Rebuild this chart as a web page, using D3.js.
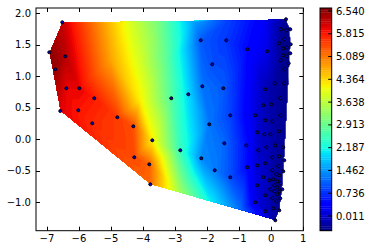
<!DOCTYPE html>
<html><head><meta charset="utf-8">
<script src="https://cdn.jsdelivr.net/npm/d3@7"></script>
<style>body{margin:0;background:#fff}text{font-family:"DejaVu Sans",sans-serif;font-size:10px;fill:#000}</style>
</head><body>
<svg id="chart" width="371" height="252"></svg>
<script>
// sample points (drawn as markers)
const ptX = [-6.52,-6.925,-6.426,-6.738,-6.395,-5.989,-5.521,-6.582,-6.020,-5.583,-4.803,-4.304,-3.711,-4.273,-3.805,-3.774,-3.119,-2.588,-2.838,-1.933,-2.183,-1.764,-1.278,-1.465,-1.496,-1.278,-2.201,-1.839,-2.151,-1.402,-0.747,-0.123,-0.778,-0.747,
  0.460,0.304,0.470,0.594,0.251,0.407,0.607,0.376,0.482,0.594,0.376,0.482,0.295,0.544,0.407,0.108,0.407,-0.186,0.282,0.002,-0.248,-0.498,0.282,-0.186,0.033,0.251,-0.435,-0.217,-0.030,0.126,0.376,-0.154,-0.404,0.033,0.251,0.407,-0.435,-0.186,0.220,0.033,0.158,0.251,0.376,-0.248,-0.061,0.064,0.189,0.282,-0.435,0.095,0.189,0.345,-0.030,0.095,0.251,-0.186,0.189,0.033,0.282,0.158,-0.498,0.064,0.251,-0.186,0.126];
const ptY = [1.857,1.380,1.316,1.110,0.808,0.808,0.649,0.447,0.458,0.251,0.347,0.203,-0.019,-0.289,-0.401,-0.719,0.649,0.712,-0.178,0.235,-0.305,-0.496,-0.607,-0.067,0.808,0.378,1.571,1.189,0.839,1.571,1.428,1.396,-0.099,-0.448,
  1.905,1.746,1.730,1.746,1.523,1.587,1.507,1.444,1.459,1.364,1.332,1.316,1.253,1.205,1.110,0.887,0.887,0.792,0.649,0.553,0.537,0.378,0.378,0.299,0.283,0.124,0.108,0.076,0.076,-0.099,-0.130,-0.130,-0.178,-0.289,-0.273,-0.337,-0.417,-0.385,-0.432,-0.496,-0.560,-0.576,-0.512,-0.607,-0.655,-0.639,-0.671,-0.703,-0.734,-0.734,-0.766,-0.798,-0.798,-0.830,-0.830,-0.893,-0.878,-0.941,-0.941,-0.989,-1.005,-1.100,-1.132,-1.148,-1.291];
const ptZ = [6.2,6.55,6.3,6.5,6.0,6.0,5.8,6.05,5.85,5.7,5.55,5.4,4.2,5.45,5.25,5.2,2.75,1.95,2.5,1.25,1.4,1.3,0.97,1.14,1.05,0.87,1.05,0.97,1.23,0.8,0.45,0.16,0.52,0.45,
  -0.3,-0.3,-0.35,-0.4,-0.3,-0.35,-0.4,-0.35,-0.35,-0.4,-0.35,-0.35,-0.3,-0.4,-0.35,-0.25,-0.35,-0.1,-0.3,-0.2,-0.05,0.1,-0.3,-0.1,-0.2,-0.3,0.05,-0.05,-0.15,-0.25,-0.3,-0.1,0.0,-0.2,-0.3,-0.35,0.05,-0.05,-0.3,-0.2,-0.3,-0.3,-0.35,0.0,-0.15,-0.2,-0.3,-0.3,0.1,-0.25,-0.3,-0.35,-0.15,-0.25,-0.3,-0.05,-0.3,-0.2,-0.3,-0.25,0.15,-0.2,-0.3,0.0,-0.25];
// extra field nodes (unmarked) shaping the surface
const nodeX = [-5.499,-4.501,-3.471,-2.441,-1.287,-0.289,-2.847,-1.911,-0.975,-5.031,-4.095,-3.315,-4.095];
const nodeY = [1.857,1.865,1.871,1.879,1.887,1.893,-0.847,-0.986,-1.122,1.258,1.258,1.258,0.622];
const nodeZ = [5.1,4.0,3.0,1.6,0.85,0.35,3.4,2.1,1.2,4.8,3.85,2.9,4.2];

const xTicks = [-7,-6,-5,-4,-3,-2,-1,0,1];
const yTicks = [-1.0,-0.5,0.0,0.5,1.0,1.5,2.0];
const cbTicks = [0.011,0.736,1.462,2.187,2.913,3.638,4.364,5.089,5.815,6.540];
const levelMin = -0.457, levelMax = 6.635, nLevels = 100;

(function () {
const svg = d3.select("#chart");
const pL = 36, pR = 303.3, pT = 8, pB = 230.7;
const x = d3.scaleLinear().domain([-7.34, 1]).range([pL, pR]);
const y = d3.scaleLinear().domain([-1.456, 2.084]).range([pB, pT]);

const jetR = d3.scaleLinear().domain([0,0.35,0.66,0.89,1]).range([0,0,1,1,0.5]).clamp(true);
const jetG = d3.scaleLinear().domain([0,0.125,0.375,0.64,0.91,1]).range([0,0,1,1,0,0]).clamp(true);
const jetB = d3.scaleLinear().domain([0,0.11,0.34,0.65,1]).range([0.5,1,1,0,0]).clamp(true);
const norm = d3.scaleLinear().domain([levelMin, levelMax]).range([0,1]);
const jet = v => { const t = norm(v); return d3.rgb(255*jetR(t), 255*jetG(t), 255*jetB(t)).toString(); };

const levels = d3.range(nLevels + 1).map(k => levelMin + k * (levelMax - levelMin) / nLevels);

// triangulated field
const allX = ptX.concat(nodeX), allY = ptY.concat(nodeY), allZ = ptZ.concat(nodeZ);
const del = d3.Delaunay.from(allX.map((v, i) => [v, allY[i]]));
const W = Math.round(pR - pL), H = Math.round(pB - pT);
const grid = new Float64Array(W * H).fill(-1e9);
const gx = allX.map(v => x(v) - pL), gy = allY.map(v => y(v) - pT);
const tri = del.triangles;
for (let t = 0; t < tri.length; t += 3) {
  const a = tri[t], b = tri[t+1], c = tri[t+2];
  const x1 = gx[a], y1 = gy[a], x2 = gx[b], y2 = gy[b], x3 = gx[c], y3 = gy[c];
  const det = (y2 - y3) * (x1 - x3) + (x3 - x2) * (y1 - y3);
  if (Math.abs(det) < 1e-9) continue;
  const i0 = Math.max(0, Math.floor(Math.min(x1,x2,x3) - 0.5)), i1 = Math.min(W-1, Math.ceil(Math.max(x1,x2,x3) - 0.5));
  const j0 = Math.max(0, Math.floor(Math.min(y1,y2,y3) - 0.5)), j1 = Math.min(H-1, Math.ceil(Math.max(y1,y2,y3) - 0.5));
  for (let j = j0; j <= j1; j++) for (let i = i0; i <= i1; i++) {
    const X = i + 0.5, Y = j + 0.5;
    const l1 = ((y2 - y3) * (X - x3) + (x3 - x2) * (Y - y3)) / det;
    const l2 = ((y3 - y1) * (X - x3) + (x1 - x3) * (Y - y3)) / det;
    const l3 = 1 - l1 - l2;
    if (l1 >= -1e-9 && l2 >= -1e-9 && l3 >= -1e-9) grid[j * W + i] = l1 * allZ[a] + l2 * allZ[b] + l3 * allZ[c];
  }
}
const contours = d3.contours().size([W, H]).thresholds(levels.slice(0, nLevels))(grid);
const path = d3.geoPath(d3.geoTransform({point(px, py) { this.stream.point(pL + px, pT + py); }}));
svg.append("g").selectAll("path").data(contours).join("path")
  .attr("d", path)
  .attr("fill", (d, k) => jet((levels[k] + levels[k+1]) / 2));

// markers
svg.append("g").selectAll("circle").data(ptX.map((v, i) => [v, ptY[i]])).join("circle")
  .attr("cx", d => x(d[0])).attr("cy", d => y(d[1])).attr("r", 1.5)
  .attr("fill", "#0000c8").attr("stroke", "#000").attr("stroke-width", 1);

// frame and ticks
const ax = svg.append("g").attr("stroke", "#000").attr("stroke-width", 1);
ax.append("rect").attr("x", pL).attr("y", pT).attr("width", pR - pL).attr("height", pB - pT).attr("fill", "none");
xTicks.forEach(v => {
  const px = Math.round(x(v)) + 0.5;
  ax.append("line").attr("x1", px).attr("x2", px).attr("y1", pB).attr("y2", pB - 4);
  ax.append("line").attr("x1", px).attr("x2", px).attr("y1", pT).attr("y2", pT + 4);
});
yTicks.forEach(v => {
  const py = Math.round(y(v)) + 0.5;
  ax.append("line").attr("x1", pL).attr("x2", pL + 4).attr("y1", py).attr("y2", py);
  ax.append("line").attr("x1", pR).attr("x2", pR - 4).attr("y1", py).attr("y2", py);
});
const fmtMinus = s => s.replace("-", "\u2212");
svg.append("g").selectAll("text").data(xTicks).join("text")
  .attr("x", d => x(d)).attr("y", 242).attr("text-anchor", "middle")
  .text(d => fmtMinus(d3.format("d")(d)));
svg.append("g").selectAll("text").data(yTicks).join("text")
  .attr("x", 31).attr("y", d => y(d) + 3.6).attr("text-anchor", "end")
  .text(d => fmtMinus(d3.format(".1f")(d)));

// colorbar
const cbL = 320, cbR = 331.7;
const cb = d3.scaleLinear().domain([levelMin, levelMax]).range([pB, pT]);
svg.append("g").selectAll("rect").data(d3.range(nLevels)).join("rect")
  .attr("x", cbL).attr("width", cbR - cbL)
  .attr("y", k => cb(levels[k+1])).attr("height", k => cb(levels[k]) - cb(levels[k+1]) + 0.3)
  .attr("fill", k => jet((levels[k] + levels[k+1]) / 2));
svg.append("rect").attr("x", cbL).attr("y", pT).attr("width", cbR - cbL).attr("height", pB - pT)
  .attr("fill", "none").attr("stroke", "#000").attr("stroke-width", 1);
cbTicks.forEach(v => {
  svg.append("line").attr("x1", cbR - 3.5).attr("x2", cbR).attr("y1", cb(v)).attr("y2", cb(v)).attr("stroke", "#000").attr("stroke-width", 1);
});
svg.append("g").selectAll("text").data(cbTicks).join("text")
  .attr("x", 336).attr("y", d => cb(d) + 3.6)
  .text(d => d3.format(".3f")(d));
})();
</script>
</body></html>
